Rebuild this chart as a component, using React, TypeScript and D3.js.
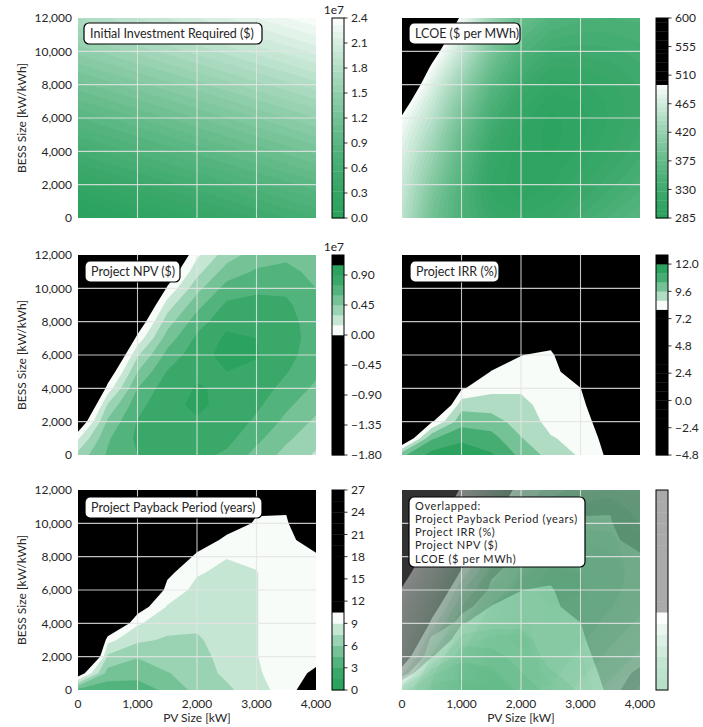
import React from 'react'
import * as d3 from 'd3'

// axis ticks
const pvTicks = [0, 1000, 2000, 3000, 4000]
const bessTicks = [0, 2000, 4000, 6000, 8000, 10000, 12000]

// grid for investment (linear, coarse)
const invPv = [0, 1000, 2000, 3000, 4000]
const invBess = [0, 2000, 4000, 6000, 8000, 10000, 12000]
// initial investment, 1e7 $  (rows = BESS, cols = PV)
const investment = [
  0.00, 0.16, 0.32, 0.48, 0.64,
  0.29, 0.45, 0.61, 0.77, 0.93,
  0.59, 0.75, 0.91, 1.07, 1.23,
  0.88, 1.04, 1.20, 1.36, 1.52,
  1.17, 1.33, 1.49, 1.65, 1.81,
  1.47, 1.63, 1.79, 1.95, 2.11,
  1.76, 1.92, 2.08, 2.24, 2.39,
]

// grid for the other panels
const pvGrid = [0, 500, 1000, 1500, 2000, 2500, 3000, 3500, 4000]
const bessGrid = [0, 1000, 2000, 3000, 4000, 5000, 6000, 7000, 8000, 9000, 10000, 11000, 12000]

// LCOE, $ per MWh
const lcoe = [
  450, 390, 350, 322, 315, 320, 335, 350, 362,
  455, 395, 350, 315, 306, 312, 326, 340, 353,
  460, 405, 355, 312, 300, 306, 318, 332, 345,
  466, 415, 362, 315, 300, 302, 312, 325, 338,
  474, 425, 370, 322, 302, 298, 308, 320, 332,
  482, 436, 380, 330, 305, 296, 304, 316, 328,
  492, 448, 392, 340, 310, 297, 303, 314, 326,
  510, 460, 405, 352, 318, 302, 306, 315, 326,
  530, 474, 420, 365, 328, 310, 312, 318, 328,
  550, 490, 437, 380, 340, 320, 320, 324, 332,
  565, 510, 455, 395, 353, 332, 330, 332, 338,
  580, 530, 472, 410, 366, 345, 340, 340, 344,
  595, 550, 490, 425, 380, 358, 350, 348, 350,
]

// NPV, 1e7 $
const npv = [
  0.35, 0.62, 0.75, 0.80, 0.80, 0.72, 0.55, 0.40, 0.28,
  0.13, 0.58, 0.78, 0.84, 0.86, 0.80, 0.64, 0.48, 0.35,
  -0.20, 0.48, 0.76, 0.86, 0.89, 0.85, 0.72, 0.56, 0.42,
  -0.50, 0.32, 0.70, 0.87, 0.92, 0.87, 0.78, 0.63, 0.50,
  -0.75, 0.06, 0.60, 0.84, 0.91, 0.88, 0.83, 0.70, 0.57,
  -0.95, -0.15, 0.45, 0.76, 0.88, 0.90, 0.87, 0.76, 0.63,
  -1.10, -0.40, 0.28, 0.65, 0.84, 0.95, 0.91, 0.80, 0.67,
  -1.25, -0.60, 0.05, 0.52, 0.78, 0.93, 0.90, 0.82, 0.68,
  -1.40, -0.80, -0.15, 0.38, 0.68, 0.86, 0.86, 0.81, 0.67,
  -1.50, -0.95, -0.35, 0.22, 0.55, 0.78, 0.80, 0.78, 0.64,
  -1.60, -1.10, -0.55, 0.02, 0.40, 0.66, 0.72, 0.72, 0.60,
  -1.70, -1.25, -0.72, -0.15, 0.25, 0.52, 0.62, 0.65, 0.55,
  -1.78, -1.40, -0.88, -0.32, 0.12, 0.38, 0.52, 0.56, 0.50,
]

// IRR, %
const irr = [
  10.2, 11.5, 11.8, 11.3, 10.2, 9.3, 8.7, 7.8, 6.8,
  6.5, 10.3, 11.0, 10.7, 9.65, 8.85, 8.6, 7.6, 6.6,
  3.5, 7.9, 10.1, 10.0, 9.2, 8.6, 8.45, 7.3, 6.3,
  1.5, 5.5, 9.3, 9.2, 9.0, 8.5, 8.25, 6.9, 5.9,
  0.0, 3.5, 7.9, 8.6, 8.7, 8.4, 8.02, 6.4, 5.4,
  -1.0, 2.0, 5.5, 8.1, 8.3, 8.3, 7.4, 5.8, 4.9,
  -2.0, 0.8, 3.5, 6.5, 7.98, 8.2, 6.5, 5.1, 4.3,
  -2.8, -0.3, 2.0, 4.8, 6.5, 7.5, 5.5, 4.4, 3.7,
  -3.4, -1.2, 0.8, 3.3, 5.0, 6.0, 4.5, 3.6, 3.0,
  -3.9, -2.0, -0.3, 2.0, 3.7, 4.8, 3.6, 2.9, 2.4,
  -4.2, -2.7, -1.2, 0.9, 2.5, 3.7, 2.8, 2.2, 1.8,
  -4.5, -3.3, -2.0, 0.0, 1.5, 2.7, 2.0, 1.5, 1.2,
  -4.7, -3.8, -2.7, -0.8, 0.6, 1.8, 1.3, 0.9, 0.6,
]

// payback period, years
const payback = [
  4.0, 3.5, 3.8, 4.8, 6.5, 7.2, 8.4, 9.7, 12.0,
  12.0, 5.4, 5.0, 5.9, 6.8, 7.8, 8.8, 9.8, 10.8,
  20.0, 7.2, 6.1, 6.9, 7.0, 8.0, 8.95, 9.8, 10.0,
  24.0, 9.5, 7.8, 7.3, 7.3, 8.2, 8.95, 9.8, 9.9,
  26.0, 14.0, 9.2, 8.1, 7.8, 8.3, 8.95, 9.8, 9.9,
  26.5, 18.0, 11.5, 8.9, 8.2, 8.4, 8.95, 9.8, 9.9,
  26.5, 21.0, 15.0, 9.9, 8.6, 8.5, 8.95, 9.8, 9.9,
  26.5, 24.0, 19.0, 10.9, 9.1, 8.7, 8.95, 9.8, 9.9,
  26.5, 26.0, 22.0, 14.0, 9.8, 9.05, 9.2, 9.9, 10.2,
  26.5, 26.5, 25.0, 18.0, 12.5, 9.8, 9.6, 10.0, 11.5,
  26.5, 26.5, 26.5, 21.0, 17.0, 12.0, 10.2, 10.2, 14.0,
  26.5, 26.5, 26.5, 24.0, 22.0, 18.0, 10.9, 10.8, 17.0,
  26.5, 26.5, 26.5, 26.5, 26.5, 24.0, 14.0, 13.0, 20.0,
]

// colorbar ticks
const invCbTicks = [0, 0.3, 0.6, 0.9, 1.2, 1.5, 1.8, 2.1, 2.4]
const lcoeCbTicks = [285, 330, 375, 420, 465, 510, 555, 600]
const npvCbTicks = [-1.8, -1.35, -0.9, -0.45, 0, 0.45, 0.9]
const irrCbTicks = [-4.8, -2.4, 0, 2.4, 4.8, 7.2, 9.6, 12.0]
const payCbTicks = [0, 3, 6, 9, 12, 15, 18, 21, 24, 27]

const overlapLines = ['Overlapped:', 'Project Payback Period (years)', 'Project IRR (%)', 'Project NPV ($)', 'LCOE ($ per MWh)']

const mkLevels = (lo, step, n) => d3.range(n + 1).map(i => +(lo + step * i).toFixed(4))

const GREEN = '#2ca25f'
const WHITE = '#f7fcf9'
const FONT = "Lato, 'Open Sans', sans-serif"
const TXT = '#262626'

const invDef = { values: investment, xs: invPv, ys: invBess, levels: mkLevels(0, 0.08, 30), lo: 0, hi: 2.4, darkHigh: false }
const lcoeDef = { values: lcoe, xs: pvGrid, ys: bessGrid, levels: mkLevels(285, 7, 45), lo: 285, hi: 495, darkHigh: false }
const npvDef = { values: npv, xs: pvGrid, ys: bessGrid, levels: mkLevels(-1.8, 0.15, 20), lo: 0, hi: 1.05, darkHigh: true }
const irrDef = { values: irr, xs: pvGrid, ys: bessGrid, levels: mkLevels(-4.8, 0.8, 22), lo: 8, hi: 12, darkHigh: true }
const payDef = { values: payback, xs: pvGrid, ys: bessGrid, levels: mkLevels(0, 1.5, 18), lo: 0, hi: 10.5, darkHigh: false }

const interp = d3.interpolateRgb(GREEN, WHITE)

function bandColor(def, L) {
  const step = def.levels[1] - def.levels[0]
  if (L < def.lo - 1e-6 || L + step > def.hi + 1e-6) return '#000'
  let t = (L - def.lo) / (def.hi - def.lo - step)
  if (def.darkHigh) t = 1 - t
  t = Math.min(1, Math.max(0, t))
  // colormap stays green longer before going white
  return interp(Math.pow(t, 1.5))
}

// layout
const colX = [78, 402]
const rowY = [18, 255, 490]
const PW = 238
const PH = 200
const CB_DX = 254
const CB_W = 12

function Contours({ def, x, y }) {
  const nx = def.xs.length
  const ny = def.ys.length
  const dx = def.xs[1] - def.xs[0]
  const dy = def.ys[1] - def.ys[0]
  const polys = d3.contours().size([nx, ny]).thresholds(def.levels.slice(0, -1))(def.values)
  const proj = d3.geoTransform({
    point(px, py) {
      this.stream.point(x(def.xs[0] + (px - 0.5) * dx), y(def.ys[0] + (py - 0.5) * dy))
    },
  })
  const path = d3.geoPath(proj)
  return (
    <g>
      {polys.map((p, i) => (
        <path key={i} d={path(p) || ''} fill={bandColor(def, p.value)} />
      ))}
    </g>
  )
}

function Colorbar({ def, x0, y0, ticks, fmt, opacity = 1, offset = '' }) {
  const lv = def.levels
  const s = d3.scaleLinear().domain([lv[0], lv[lv.length - 1]]).range([y0 + PH, y0])
  const step = lv[1] - lv[0]
  return (
    <g>
      <g opacity={opacity}>
        {lv.slice(0, -1).map((L, i) => (
          <rect key={i} x={x0} width={CB_W} y={s(L + step)} height={s(L) - s(L + step) + 0.3} fill={bandColor(def, L)} />
        ))}
      </g>
      <rect x={x0} y={y0} width={CB_W} height={PH} fill="none" stroke="#000" strokeWidth={1} />
      {ticks.map(t => (
        <g key={t}>
          <line x1={x0 + CB_W} x2={x0 + CB_W + 3.5} y1={s(t)} y2={s(t)} stroke="#000" strokeWidth={0.8} />
          <text x={x0 + CB_W + 7} y={s(t)} dy="0.35em" fontSize={12} fill={TXT}>{fmt(t)}</text>
        </g>
      ))}
      {offset && (
        <text x={x0 + CB_W} y={y0 - 4} textAnchor="end" fontSize={12} fill={TXT}>{offset}</text>
      )}
    </g>
  )
}

function Box({ x, y, w, lines }) {
  const multi = lines.length > 1
  const h = multi ? 70 : 21
  const gap = 13.3
  return (
    <g>
      <rect x={x} y={y} width={w} height={h} rx={5} fill="#fff" stroke="#000" strokeWidth={1.2} />
      {lines.map((s, i) => (
        <text
          key={i}
          x={x + 6}
          y={y + (multi ? 12.5 : 15) + i * gap}
          fontSize={multi ? 11 : 12.5}
          letterSpacing={multi ? 0.6 : 0}
          fill={TXT}
        >
          {s}
        </text>
      ))}
    </g>
  )
}

function Plot({ col, row, layers, id }) {
  const x0 = colX[col]
  const y0 = rowY[row]
  const x = d3.scaleLinear().domain([0, 4000]).range([x0, x0 + PW])
  const y = d3.scaleLinear().domain([0, 12000]).range([y0 + PH, y0])
  return (
    <g>
      <defs>
        <clipPath id={id}>
          <rect x={x0} y={y0} width={PW} height={PH} />
        </clipPath>
      </defs>
      <g clipPath={`url(#${id})`}>
        <rect x={x0} y={y0} width={PW} height={PH} fill="#fff" />
        {layers.map((l, i) => (
          <g key={i} opacity={l.opacity}>
            <Contours def={l.def} x={x} y={y} />
          </g>
        ))}
        {pvTicks.slice(1, -1).map(t => (
          <line key={'vx' + t} x1={x(t)} x2={x(t)} y1={y0} y2={y0 + PH} stroke="#e4e4e4" strokeOpacity={0.85} strokeWidth={1.1} />
        ))}
        {bessTicks.slice(1, -1).map(t => (
          <line key={'hy' + t} x1={x0} x2={x0 + PW} y1={y(t)} y2={y(t)} stroke="#e4e4e4" strokeOpacity={0.85} strokeWidth={1.1} />
        ))}
      </g>
      {col === 0 && bessTicks.map(t => (
        <text key={'yt' + t} x={x0 - 6} y={y(t)} dy="0.35em" textAnchor="end" fontSize={12} fill={TXT}>
          {d3.format(',')(t)}
        </text>
      ))}
      {col === 0 && (
        <text transform={`translate(22,${y0 + PH / 2}) rotate(-90)`} textAnchor="middle" dy="0.35em" fontSize={12} fill={TXT}>
          BESS Size [kW/kWh]
        </text>
      )}
      {row === 2 && pvTicks.map(t => (
        <text key={'xt' + t} x={x(t)} y={y0 + PH + 18} textAnchor="middle" fontSize={12} fill={TXT}>
          {d3.format(',')(t)}
        </text>
      ))}
      {row === 2 && (
        <text x={x0 + PW / 2} y={y0 + PH + 32} textAnchor="middle" fontSize={12} fill={TXT}>PV Size [kW]</text>
      )}
    </g>
  )
}

export default function App() {
  const f1 = d3.format('.1f')
  const f2 = d3.format('.2f')
  const fd = d3.format('d')
  const OV = 0.33
  return (
    <svg width={703} height={727} style={{ position: 'absolute', left: 0, top: 0, display: 'block' }} fontFamily={FONT}>
      <rect width={703} height={727} fill="#fff" />

      <Plot col={0} row={0} id="c1" layers={[{ def: invDef, opacity: 1 }]} />
      <Colorbar def={invDef} x0={colX[0] + CB_DX} y0={rowY[0]} ticks={invCbTicks} fmt={f1} offset="1e7" />
      <Box x={colX[0] + 6} y={rowY[0] + 5} w={178} lines={['Initial Investment Required ($)']} />

      <Plot col={1} row={0} id="c2" layers={[{ def: lcoeDef, opacity: 1 }]} />
      <Colorbar def={lcoeDef} x0={colX[1] + CB_DX} y0={rowY[0]} ticks={lcoeCbTicks} fmt={fd} />
      <Box x={colX[1] + 7} y={rowY[0] + 5} w={111} lines={['LCOE ($ per MWh)']} />

      <Plot col={0} row={1} id="c3" layers={[{ def: npvDef, opacity: 1 }]} />
      <Colorbar def={npvDef} x0={colX[0] + CB_DX} y0={rowY[1]} ticks={npvCbTicks} fmt={f2} offset="1e7" />
      <Box x={colX[0] + 7} y={rowY[1] + 6} w={95} lines={['Project NPV ($)']} />

      <Plot col={1} row={1} id="c4" layers={[{ def: irrDef, opacity: 1 }]} />
      <Colorbar def={irrDef} x0={colX[1] + CB_DX} y0={rowY[1]} ticks={irrCbTicks} fmt={f1} />
      <Box x={colX[1] + 8} y={rowY[1] + 6} w={89} lines={['Project IRR (%)']} />

      <Plot col={0} row={2} id="c5" layers={[{ def: payDef, opacity: 1 }]} />
      <Colorbar def={payDef} x0={colX[0] + CB_DX} y0={rowY[2]} ticks={payCbTicks} fmt={fd} />
      <Box x={colX[0] + 7} y={rowY[2] + 7} w={177} lines={['Project Payback Period (years)']} />

      <Plot
        col={1}
        row={2}
        id="c6"
        layers={[
          { def: payDef, opacity: OV },
          { def: irrDef, opacity: OV },
          { def: npvDef, opacity: OV },
          { def: lcoeDef, opacity: OV },
        ]}
      />
      <Colorbar def={payDef} x0={colX[1] + CB_DX} y0={rowY[2]} ticks={[]} fmt={fd} opacity={OV} />
      <Box x={colX[1] + 7} y={rowY[2] + 7} w={176} lines={overlapLines} />
    </svg>
  )
}
